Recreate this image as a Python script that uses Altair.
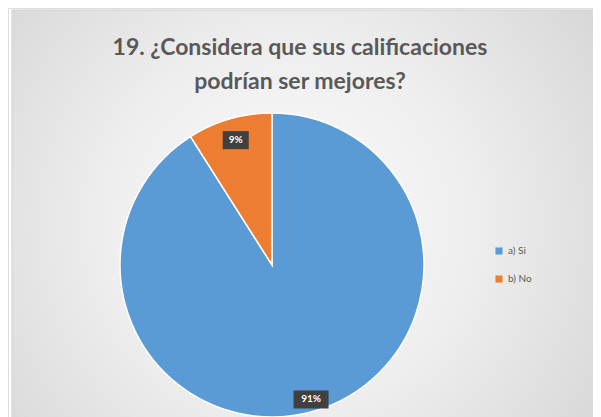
import altair as alt
import pandas as pd

categories = ["a)  Si", "b)  No"]
values = [91, 9]
pct_labels = ["91%", "9%"]
colors = ["#5B9BD5", "#ED7D31"]
title_lines = ["19. ¿Considera que sus calificaciones", "podrían ser mejores?"]

W, H = 585, 409
CX, CY, R = 264, 257, 152

df = pd.DataFrame({"cat": categories, "value": values, "label": pct_labels, "idx": list(range(len(values)))})
base = alt.Chart(df)

bg = alt.Chart(alt.Data(values=[{"a": 1}])).mark_rect(
    fill=alt.Gradient(
        gradient="radial", x1=0.47, y1=0.5, x2=0.47, y2=0.5, r1=0, r2=0.62,
        stops=[alt.GradientStop(color="#fbfbfb", offset=0),
               alt.GradientStop(color="#eeeeee", offset=0.5),
               alt.GradientStop(color="#d8d8d8", offset=1)]),
    stroke="#cfcfcf", strokeWidth=1,
).encode(x=alt.value(4), x2=alt.value(W + 10), y=alt.value(2), y2=alt.value(H + 20))

pie = base.mark_arc(radius=R, stroke="white", strokeWidth=1.5).encode(
    theta=alt.Theta("value:Q", stack=True),
    order=alt.Order("idx:Q"),
    color=alt.Color("cat:N", scale=alt.Scale(domain=categories, range=colors),
                    legend=alt.Legend(title=None, orient="none", legendX=486, legendY=238,
                                      symbolType="square", symbolSize=50, symbolStrokeWidth=0,
                                      labelFont="Lato", labelFontSize=10, labelColor="#595959",
                                      rowPadding=18, labelOffset=4)),
    x=alt.value(CX), y=alt.value(CY),
)

lab = base.transform_joinaggregate(total="sum(value)").transform_window(
    cum="sum(value)", sort=[alt.SortField("idx")], frame=[None, 0]
).transform_calculate(
    mid="(datum.cum - datum.value/2) / datum.total * 2 * PI",
    rr="datum.value < 20 ? 130 : 140",
).transform_calculate(
    lx=f"{CX} + datum.rr * sin(datum.mid)",
    ly=f"{CY} - datum.rr * cos(datum.mid)",
    bw="length(datum.label) * 9 + 8",
).transform_calculate(
    x1="datum.lx - datum.bw/2", x2="datum.lx + datum.bw/2",
    y1="datum.ly - 9", y2="datum.ly + 9",
)

boxes = lab.mark_rect(color="#404040").encode(
    x=alt.X("x1:Q", scale=None), x2="x2:Q",
    y=alt.Y("y1:Q", scale=None), y2="y2:Q",
)
texts = lab.mark_text(color="white", font="Lato", fontWeight="bold", fontSize=10).encode(
    x=alt.X("lx:Q", scale=None), y=alt.Y("ly:Q", scale=None), text="label:N",
)

tdf = pd.DataFrame({"t": title_lines, "i": list(range(len(title_lines)))})
title = alt.Chart(tdf).mark_text(font="Lato", fontWeight="bold", fontSize=23, color="#595959",
                                  align="center", baseline="middle").encode(
    x=alt.value(292),
    y=alt.Y("i:Q", scale=alt.Scale(domain=[0, 1], range=[40, 74]), axis=None),
    text="t:N")

chart = alt.layer(bg, pie, boxes, texts, title).properties(
    width=W, height=H, padding=0, autosize=alt.AutoSizeParams(type="none")
).configure_view(stroke=None).configure(background="white")

chart.save("out.html", embed_options={"renderer": "svg", "actions": False})
